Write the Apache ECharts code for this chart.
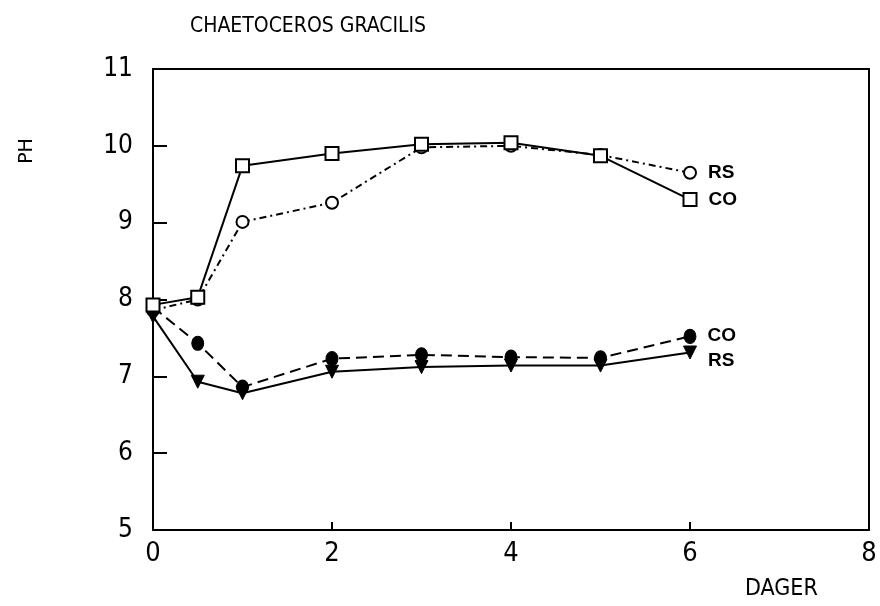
<!DOCTYPE html>
<html>
<head>
<meta charset="utf-8">
<script src="https://cdn.jsdelivr.net/npm/echarts@6/dist/echarts.min.js"></script>
<style>
  html, body { margin: 0; padding: 0; background: #fff; }
  #chart { width: 880px; height: 606px; }
</style>
</head>
<body>
<div id="chart"></div>
<script>
// Days of culture and pH for Chaetoceros gracilis
const days = [0, 0.5, 1, 2, 3, 4, 5, 6];
const phOpenCO = [7.93, 8.03, 9.74, 9.90, 10.02, 10.04, 9.87, 9.30];
const phOpenRS = [7.86, 8.00, 9.01, 9.26, 9.98, 10.00, 9.88, 9.65];
const phFilledCO = [7.90, 7.43, 6.86, 7.23, 7.28, 7.25, 7.24, 7.52];
const phFilledRS = [7.78, 6.93, 6.78, 7.06, 7.12, 7.14, 7.14, 7.31];
const xTicks = [0, 2, 4, 6, 8];
const yTicks = [5, 6, 7, 8, 9, 10, 11];

const FONT = '"Liberation Sans Narrow", "DejaVu Sans Condensed", "Roboto Condensed", sans-serif';

function pairs(ys) { return days.map((d, i) => [d, ys[i]]); }

function endLabel(text, dy) {
  return {
    show: true,
    position: 'right',
    distance: 11,
    offset: [0, dy],
    formatter: function (p) { return p.dataIndex === days.length - 1 ? text : ''; },
    fontFamily: 'Liberation Sans, Arial, sans-serif',
    fontWeight: 'bold',
    fontSize: 19,
    color: '#000'
  };
}

const chart = echarts.init(document.getElementById('chart'), null, { renderer: 'canvas' });

const axisLine = { show: true, onZero: false, lineStyle: { color: '#000', width: 2 } };

chart.setOption({
  animation: false,
  backgroundColor: '#fff',
  title: {
    text: 'CHAETOCEROS GRACILIS',
    left: 185, top: 11,
    textStyle: { fontFamily: FONT, fontWeight: 'normal', fontSize: 21, color: '#000' }
  },
  grid: { left: 153, right: 11, top: 69, bottom: 76, containLabel: false },
  xAxis: [
    {
      type: 'value', min: 0, max: 8, interval: 2, position: 'bottom',
      axisLine: axisLine, splitLine: { show: false },
      axisTick: { show: true, inside: true, length: 8, lineStyle: { color: '#000', width: 2 } },
      axisLabel: { color: '#000', fontFamily: FONT, fontSize: 27, margin: 10,
        formatter: function (v) { return xTicks.indexOf(v) >= 0 ? String(v) : ''; } }
    },
    {
      type: 'value', min: 0, max: 8, interval: 2, position: 'top',
      axisLine: axisLine, splitLine: { show: false },
      axisTick: { show: false }, axisLabel: { show: false }
    }
  ],
  yAxis: [
    {
      type: 'value', min: 5, max: 11, interval: 1, position: 'left',
      axisLine: axisLine, splitLine: { show: false },
      axisTick: { show: true, inside: true, length: 14, lineStyle: { color: '#000', width: 2 } },
      axisLabel: { color: '#000', fontFamily: FONT, fontSize: 26, margin: 20,
        formatter: function (v) { return yTicks.indexOf(v) >= 0 ? String(v) : ''; } }
    },
    {
      type: 'value', min: 5, max: 11, interval: 1, position: 'right',
      axisLine: axisLine, splitLine: { show: false },
      axisTick: { show: false }, axisLabel: { show: false }
    }
  ],
  graphic: [
    {
      // rotated pH axis title, reading bottom to top
      type: 'text', x: 27, y: 151, rotation: Math.PI / 2,
      style: { text: 'PH', fontFamily: 'DejaVu Sans', fontSize: 19, fill: '#000', align: 'center', verticalAlign: 'middle' }
    },
    {
      // x axis title below the tick labels
      type: 'text', left: 745, top: 578,
      style: { text: 'DAGER', fontFamily: FONT, fontSize: 23, fill: '#000' }
    }
  ],
  series: [
    {
      name: 'RS open', type: 'line', data: pairs(phOpenRS),
      symbol: 'circle', symbolSize: 12,
      itemStyle: { color: '#fff', borderColor: '#000', borderWidth: 2 },
      lineStyle: { color: '#000', width: 2, type: [7, 4, 2, 4] },
      label: endLabel('RS', 0), z: 3
    },
    {
      name: 'CO open', type: 'line', data: pairs(phOpenCO),
      symbol: 'rect', symbolSize: 13,
      itemStyle: { color: '#fff', borderColor: '#000', borderWidth: 2 },
      lineStyle: { color: '#000', width: 2, type: 'solid' },
      label: endLabel('CO', 0), z: 4
    },
    {
      name: 'CO filled', type: 'line', data: pairs(phFilledCO),
      symbol: 'circle', symbolSize: [12, 14],
      itemStyle: { color: '#000', borderColor: '#000', borderWidth: 1 },
      lineStyle: { color: '#000', width: 2, type: [11, 6] },
      label: endLabel('CO', -1), z: 3
    },
    {
      name: 'RS filled', type: 'line', data: pairs(phFilledRS),
      symbol: 'triangle', symbolRotate: 180, symbolSize: 13,
      itemStyle: { color: '#000', borderColor: '#000', borderWidth: 1 },
      lineStyle: { color: '#000', width: 2, type: 'solid' },
      label: endLabel('RS', 8), z: 3
    }
  ]
});
</script>
</body>
</html>
